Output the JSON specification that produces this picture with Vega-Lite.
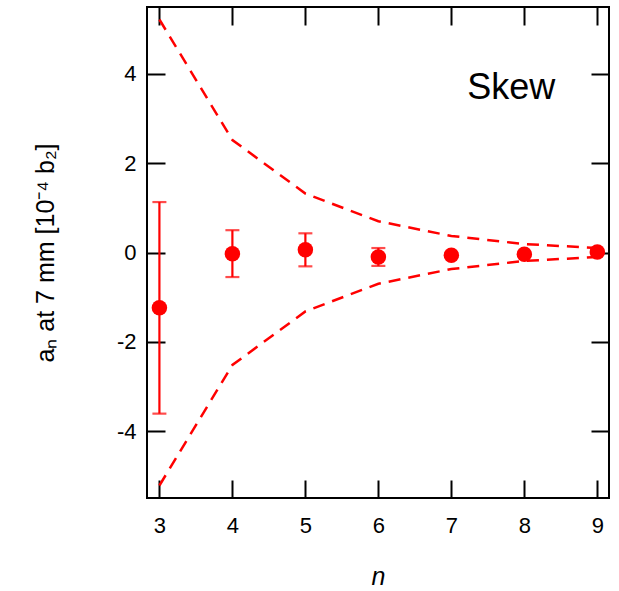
{
  "$schema": "https://vega.github.io/schema/vega-lite/v6.json",
  "width": 462,
  "height": 491,
  "autosize": {"type": "none"},
  "padding": {"left": 147, "top": 7, "right": 10, "bottom": 93},
  "background": "white",
  "config": {
    "view": {"stroke": "black", "strokeWidth": 2},
    "axis": {
      "domain": false,
      "grid": false,
      "tickColor": "black",
      "tickWidth": 2,
      "tickSize": -18,
      "labelFont": "Liberation Sans",
      "labelFontSize": 22,
      "labelColor": "black",
      "titleFont": "Liberation Sans",
      "titleFontSize": 25,
      "titleFontWeight": "normal",
      "titleColor": "black"
    }
  },
  "datasets": {
    "bounds": [
      {"n": 3, "bound": 5.22, "side": "upper"},
      {"n": 4, "bound": 2.52, "side": "upper"},
      {"n": 5, "bound": 1.32, "side": "upper"},
      {"n": 6, "bound": 0.7, "side": "upper"},
      {"n": 7, "bound": 0.37, "side": "upper"},
      {"n": 8, "bound": 0.19, "side": "upper"},
      {"n": 9, "bound": 0.1, "side": "upper"},
      {"n": 3, "bound": -5.22, "side": "lower"},
      {"n": 4, "bound": -2.52, "side": "lower"},
      {"n": 5, "bound": -1.32, "side": "lower"},
      {"n": 6, "bound": -0.7, "side": "lower"},
      {"n": 7, "bound": -0.37, "side": "lower"},
      {"n": 8, "bound": -0.19, "side": "lower"},
      {"n": 9, "bound": -0.1, "side": "lower"}
    ],
    "points": [
      {"n": 3, "a": -1.24, "lo": -3.61, "hi": 1.13},
      {"n": 4, "a": -0.03, "lo": -0.55, "hi": 0.5},
      {"n": 5, "a": 0.06, "lo": -0.31, "hi": 0.43},
      {"n": 6, "a": -0.1, "lo": -0.3, "hi": 0.1},
      {"n": 7, "a": -0.06, "lo": -0.1, "hi": -0.02},
      {"n": 8, "a": -0.04, "lo": -0.08, "hi": 0.0},
      {"n": 9, "a": 0.01, "lo": -0.02, "hi": 0.04}
    ],
    "label": [{"n": 7.82, "a": 3.44, "text": "Skew"}]
  },
  "resolve": {"axis": {"x": "independent", "y": "independent"}},
  "layer": [
    {
      "data": {"name": "bounds"},
      "mark": {"type": "line", "color": "#ff0000", "strokeWidth": 2.5, "strokeDash": [12, 8]},
      "encoding": {
        "x": {"field": "n", "type": "quantitative", "scale": {"domain": [2.83, 9.16], "nice": false, "zero": false},
          "axis": {"orient": "bottom", "values": [3, 4, 5, 6, 7, 8, 9], "labelPadding": 35, "title": "n", "titleFontStyle": "italic", "titlePadding": 28}},
        "y": {"field": "bound", "type": "quantitative", "scale": {"domain": [-5.5, 5.5], "nice": false, "zero": false},
          "axis": {"orient": "left", "values": [-4, -2, 0, 2, 4], "labelPadding": 29, "labelExpr": "datum.value < 0 ? '-' + abs(datum.value) : '' + datum.value", "title": "aₙ at 7 mm [10⁻⁴ b₂]", "titlePadding": 58}},
        "detail": {"field": "side"}
      }
    },
    {
      "data": {"name": "points"},
      "mark": {"type": "rule", "color": "#ff0000", "strokeWidth": 2.2},
      "encoding": {
        "x": {"field": "n", "type": "quantitative", "axis": {"orient": "top", "values": [3, 4, 5, 6, 7, 8, 9], "labels": false, "title": null}},
        "y": {"field": "lo", "type": "quantitative", "axis": {"orient": "right", "values": [-4, -2, 0, 2, 4], "labels": false, "title": null}},
        "y2": {"field": "hi"}
      }
    },
    {
      "data": {"name": "points"},
      "mark": {"type": "tick", "color": "#ff0000", "orient": "horizontal", "size": 14, "thickness": 2.2},
      "encoding": {
        "x": {"field": "n", "type": "quantitative", "axis": null},
        "y": {"field": "lo", "type": "quantitative", "axis": null}
      }
    },
    {
      "data": {"name": "points"},
      "mark": {"type": "tick", "color": "#ff0000", "orient": "horizontal", "size": 14, "thickness": 2.2},
      "encoding": {
        "x": {"field": "n", "type": "quantitative", "axis": null},
        "y": {"field": "hi", "type": "quantitative", "axis": null}
      }
    },
    {
      "data": {"name": "points"},
      "mark": {"type": "circle", "color": "#ff0000", "opacity": 1, "size": 240},
      "encoding": {
        "x": {"field": "n", "type": "quantitative", "axis": null},
        "y": {"field": "a", "type": "quantitative", "axis": null}
      }
    },
    {
      "data": {"name": "label"},
      "mark": {"type": "text", "font": "Liberation Sans", "fontSize": 36, "color": "black", "align": "center", "baseline": "alphabetic"},
      "encoding": {
        "x": {"field": "n", "type": "quantitative", "axis": null},
        "y": {"field": "a", "type": "quantitative", "axis": null},
        "text": {"field": "text"}
      }
    }
  ]
}
